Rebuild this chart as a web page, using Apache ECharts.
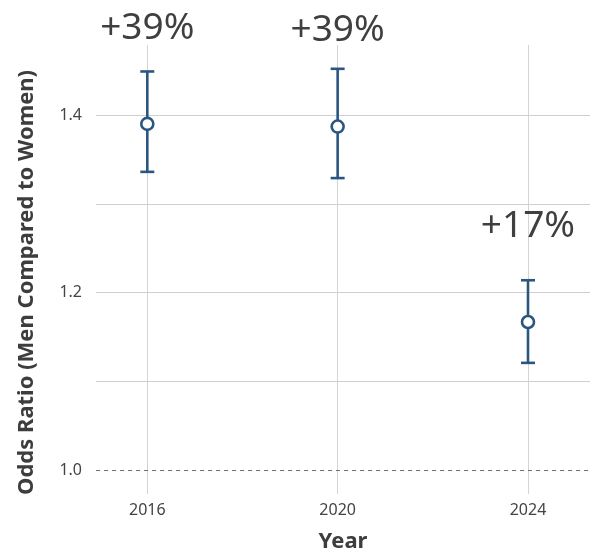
<!DOCTYPE html>
<html>
<head>
<meta charset="utf-8">
<title>Odds Ratio by Year</title>
<script src="https://cdn.jsdelivr.net/npm/echarts@6/dist/echarts.min.js"></script>
<style>
  html, body { margin: 0; padding: 0; background: #ffffff; }
  #chart { width: 590px; height: 555px; }
</style>
</head>
<body>
<div id="chart"></div>
<script>
// Survey years and odds ratios (men vs. women) with 95% confidence limits
const years = [2016, 2020, 2024];
const oddsRatio = [1.39, 1.387, 1.167];
const ciLower = [1.336, 1.329, 1.121];
const ciUpper = [1.449, 1.452, 1.214];

// Axis ticks and labels
const xTickValues = [2016, 2020, 2024];
const yGridValues = [1.1, 1.2, 1.3, 1.4];
const yLabelValues = [1.0, 1.2, 1.4];
const referenceLine = 1.0;

const ink = '#2b5682';
const textColor = '#444444';
const fontFamily = '"Noto Sans", "Open Sans", sans-serif';

const pointData = years.map((y, i) => [y, oddsRatio[i]]);
const barData = years.map((y, i) => [y, ciLower[i], ciUpper[i]]);

function pctLabel(v) {
  const p = Math.round((v - 1) * 100);
  return (p >= 0 ? '+' : '') + p + '%';
}

const chart = echarts.init(document.getElementById('chart'), null, { renderer: 'canvas' });

chart.setOption({
  backgroundColor: '#ffffff',
  animation: false,
  textStyle: { fontFamily: fontFamily },
  grid: { left: 96, right: 0, top: 45, bottom: 61, containLabel: false, outerBoundsMode: 'none' },
  xAxis: {
    type: 'value',
    min: 2014.922,
    max: 2025.303,
    name: 'Year',
    nameLocation: 'middle',
    nameGap: 37,
    nameTextStyle: { color: '#3d3d3d', fontSize: 22, fontWeight: 'bold', fontFamily: fontFamily },
    axisLine: { show: false },
    axisTick: { show: false, customValues: xTickValues },
    axisLabel: {
      customValues: xTickValues,
      color: textColor, fontSize: 16, margin: 8, fontFamily: fontFamily,
      formatter: v => String(v)
    },
    splitLine: { show: true, lineStyle: { color: '#d4d4d4', width: 1 } }
  },
  yAxis: {
    type: 'value',
    min: 0.9734,
    max: 1.4788,
    name: 'Odds Ratio (Men Compared to Women)',
    nameLocation: 'middle',
    nameRotate: 90,
    nameGap: 58,
    nameTextStyle: {
      color: '#3d3d3d', fontSize: 22, fontWeight: 'bold', fontFamily: fontFamily,
      padding: [0, 26, 0, 0]
    },
    axisLine: { show: false },
    axisTick: { show: false, customValues: yGridValues },
    axisLabel: {
      customValues: yLabelValues,
      color: textColor, fontSize: 16, margin: 14, fontFamily: fontFamily,
      formatter: v => v.toFixed(1)
    },
    splitLine: { show: true, lineStyle: { color: '#cfcfcf', width: 1 } }
  },
  series: [
    {
      // confidence interval bars with end caps
      type: 'custom',
      data: barData,
      silent: true,
      z: 3,
      renderItem: function (params, api) {
        const x = api.value(0);
        const lo = api.coord([x, api.value(1)]);
        const hi = api.coord([x, api.value(2)]);
        const cap = 7;
        const style = { stroke: ink, lineWidth: 2.6 };
        return {
          type: 'group',
          children: [
            { type: 'line', shape: { x1: hi[0], y1: hi[1], x2: lo[0], y2: lo[1] }, style: style },
            { type: 'line', shape: { x1: hi[0] - cap, y1: hi[1], x2: hi[0] + cap, y2: hi[1] }, style: style },
            { type: 'line', shape: { x1: lo[0] - cap, y1: lo[1], x2: lo[0] + cap, y2: lo[1] }, style: style }
          ]
        };
      },
      markLine: {
        silent: true,
        symbol: 'none',
        label: { show: false },
        lineStyle: { color: '#6e6e6e', type: [4, 4], width: 1 },
        data: [{ yAxis: referenceLine }]
      }
    },
    {
      // point estimates with percentage labels
      type: 'scatter',
      data: pointData,
      symbol: 'circle',
      symbolSize: 12,
      z: 4,
      itemStyle: { color: '#ffffff', borderColor: ink, borderWidth: 2.6, opacity: 1 },
      label: {
        show: true,
        position: 'top',
        distance: 70,
        color: '#3f3f3f',
        fontSize: 37,
        fontFamily: fontFamily,
        formatter: p => pctLabel(p.value[1])
      }
    }
  ]
});
</script>
</body>
</html>
